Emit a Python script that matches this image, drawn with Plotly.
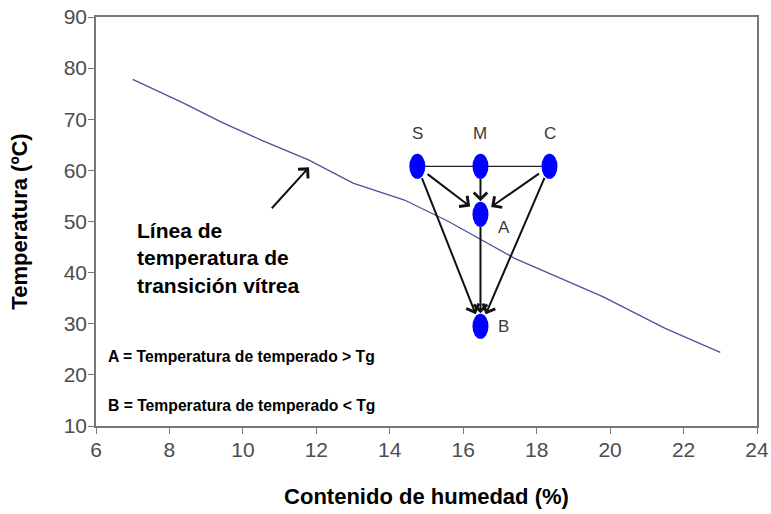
import plotly.graph_objects as go

# Glass transition line
tg_x = [7.0, 8.4, 9.4, 10.5, 11.8, 12.3, 13.0, 14.4, 15.6, 17.4, 19.8, 21.5, 23.0]
tg_y = [77.8, 73.1, 69.5, 65.9, 62.0, 60.1, 57.5, 54.2, 50.0, 42.8, 35.3, 29.1, 24.4]

# Nodes of the diagram
node_names = ["S", "M", "C", "A", "B"]
node_x = [14.75, 16.47, 18.35, 16.47, 16.47]
node_y = [60.8, 60.8, 60.8, 51.4, 29.5]

# Arrows (from, to)
edges = [("S", "A"), ("M", "A"), ("C", "A"), ("S", "B"), ("A", "B"), ("C", "B")]

x_ticks = [6, 8, 10, 12, 14, 16, 18, 20, 22, 24]
y_ticks = [10, 20, 30, 40, 50, 60, 70, 80, 90]

pos = {n: (x, y) for n, x, y in zip(node_names, node_x, node_y)}

fig = go.Figure()
fig.add_trace(go.Scatter(x=tg_x, y=tg_y, mode="lines",
                         line=dict(color="#50509c", width=1.3), hoverinfo="skip"))

# horizontal connector S-M-C
fig.add_trace(go.Scatter(x=[pos["S"][0], pos["C"][0]], y=[pos["S"][1], pos["C"][1]],
                         mode="lines", line=dict(color="#222", width=1.2), hoverinfo="skip"))

shapes = []
for n in node_names:
    x, y = pos[n]
    shapes.append(dict(type="circle", xref="x", yref="y", xsizemode="pixel", ysizemode="pixel",
                       xanchor=x, yanchor=y, x0=-8, x1=8, y0=-12.5, y1=12.5,
                       fillcolor="#0000ff", line=dict(width=0), layer="above"))

annotations = []
for a, b in edges:
    x0, y0 = pos[a]
    x1, y1 = pos[b]
    annotations.append(dict(x=x1, y=y1, ax=x0, ay=y0, xref="x", yref="y", axref="x", ayref="y",
                            showarrow=True, arrowhead=4, arrowsize=1.3, arrowwidth=2,
                            arrowcolor="#111", standoff=13, startstandoff=11, text=""))

# arrow pointing at the Tg line
annotations.append(dict(x=11.8, y=60.6, ax=10.75, ay=52.3, xref="x", yref="y", axref="x", ayref="y",
                        showarrow=True, arrowhead=4, arrowsize=1.3, arrowwidth=2,
                        arrowcolor="#111", text=""))

lab_font = dict(family="Arial, Liberation Sans", size=17, color="#3a3a3a")
for n in ["S", "M", "C"]:
    x, y = pos[n]
    annotations.append(dict(x=x, y=y, xref="x", yref="y", text=n, showarrow=False,
                            yshift=33, font=lab_font))
annotations.append(dict(x=pos["A"][0], y=pos["A"][1], xref="x", yref="y", text="A", showarrow=False,
                        xshift=24, yshift=-13, font=lab_font))
annotations.append(dict(x=pos["B"][0], y=pos["B"][1], xref="x", yref="y", text="B", showarrow=False,
                        xshift=23, yshift=0, font=lab_font))

annotations.append(dict(x=7.05, y=50.8, xref="x", yref="y", xanchor="left", yanchor="top", align="left",
                        text="<b>Línea de<br>temperatura de<br>transición vítrea</b>", showarrow=False,
                        font=dict(family="Arial, Liberation Sans", size=21, color="#000")))
annotations.append(dict(x=6.27, y=23.6, xref="x", yref="y", xanchor="left", yanchor="middle",
                        text="<b>A = Temperatura de temperado > Tg</b>", showarrow=False,
                        font=dict(family="Arial, Liberation Sans", size=15.7, color="#000")))
annotations.append(dict(x=6.27, y=14.0, xref="x", yref="y", xanchor="left", yanchor="middle",
                        text="<b>B = Temperatura de temperado < Tg</b>", showarrow=False,
                        font=dict(family="Arial, Liberation Sans", size=15.7, color="#000")))

fig.update_layout(
    width=771, height=514, showlegend=False,
    margin=dict(l=96, r=14, t=17, b=88),
    plot_bgcolor="white", paper_bgcolor="white",
    shapes=shapes, annotations=annotations,
    xaxis=dict(range=[6, 24], tickvals=x_ticks, ticks="outside", ticklen=6, tickcolor="#777",
               showgrid=False, zeroline=False, showline=True, linecolor="#777", linewidth=1.5, mirror=True,
               automargin=False, ticklabeloverflow="allow", ticklabelstandoff=-2,
               tickfont=dict(family="Arial, Liberation Sans", size=21, color="#4d4d4d"),
               title=dict(text="<b>Contenido de humedad (%)</b>", standoff=29,
                          font=dict(family="Arial, Liberation Sans", size=22, color="#000"))),
    yaxis=dict(range=[10, 90], tickvals=y_ticks, ticks="outside", ticklen=6, tickcolor="#777",
               showgrid=False, zeroline=False, showline=True, linecolor="#777", linewidth=1.5, mirror=True,
               automargin=False, ticklabeloverflow="allow", ticklabelstandoff=-3,
               tickfont=dict(family="Arial, Liberation Sans", size=21, color="#4d4d4d"),
               title=dict(text="<b>Temperatura (ºC)</b>", standoff=30,
                          font=dict(family="Arial, Liberation Sans", size=22, color="#000"))),
)

fig.write_html("out.html", config={"displayModeBar": False},
               post_script="document.body.style.margin='0';")
